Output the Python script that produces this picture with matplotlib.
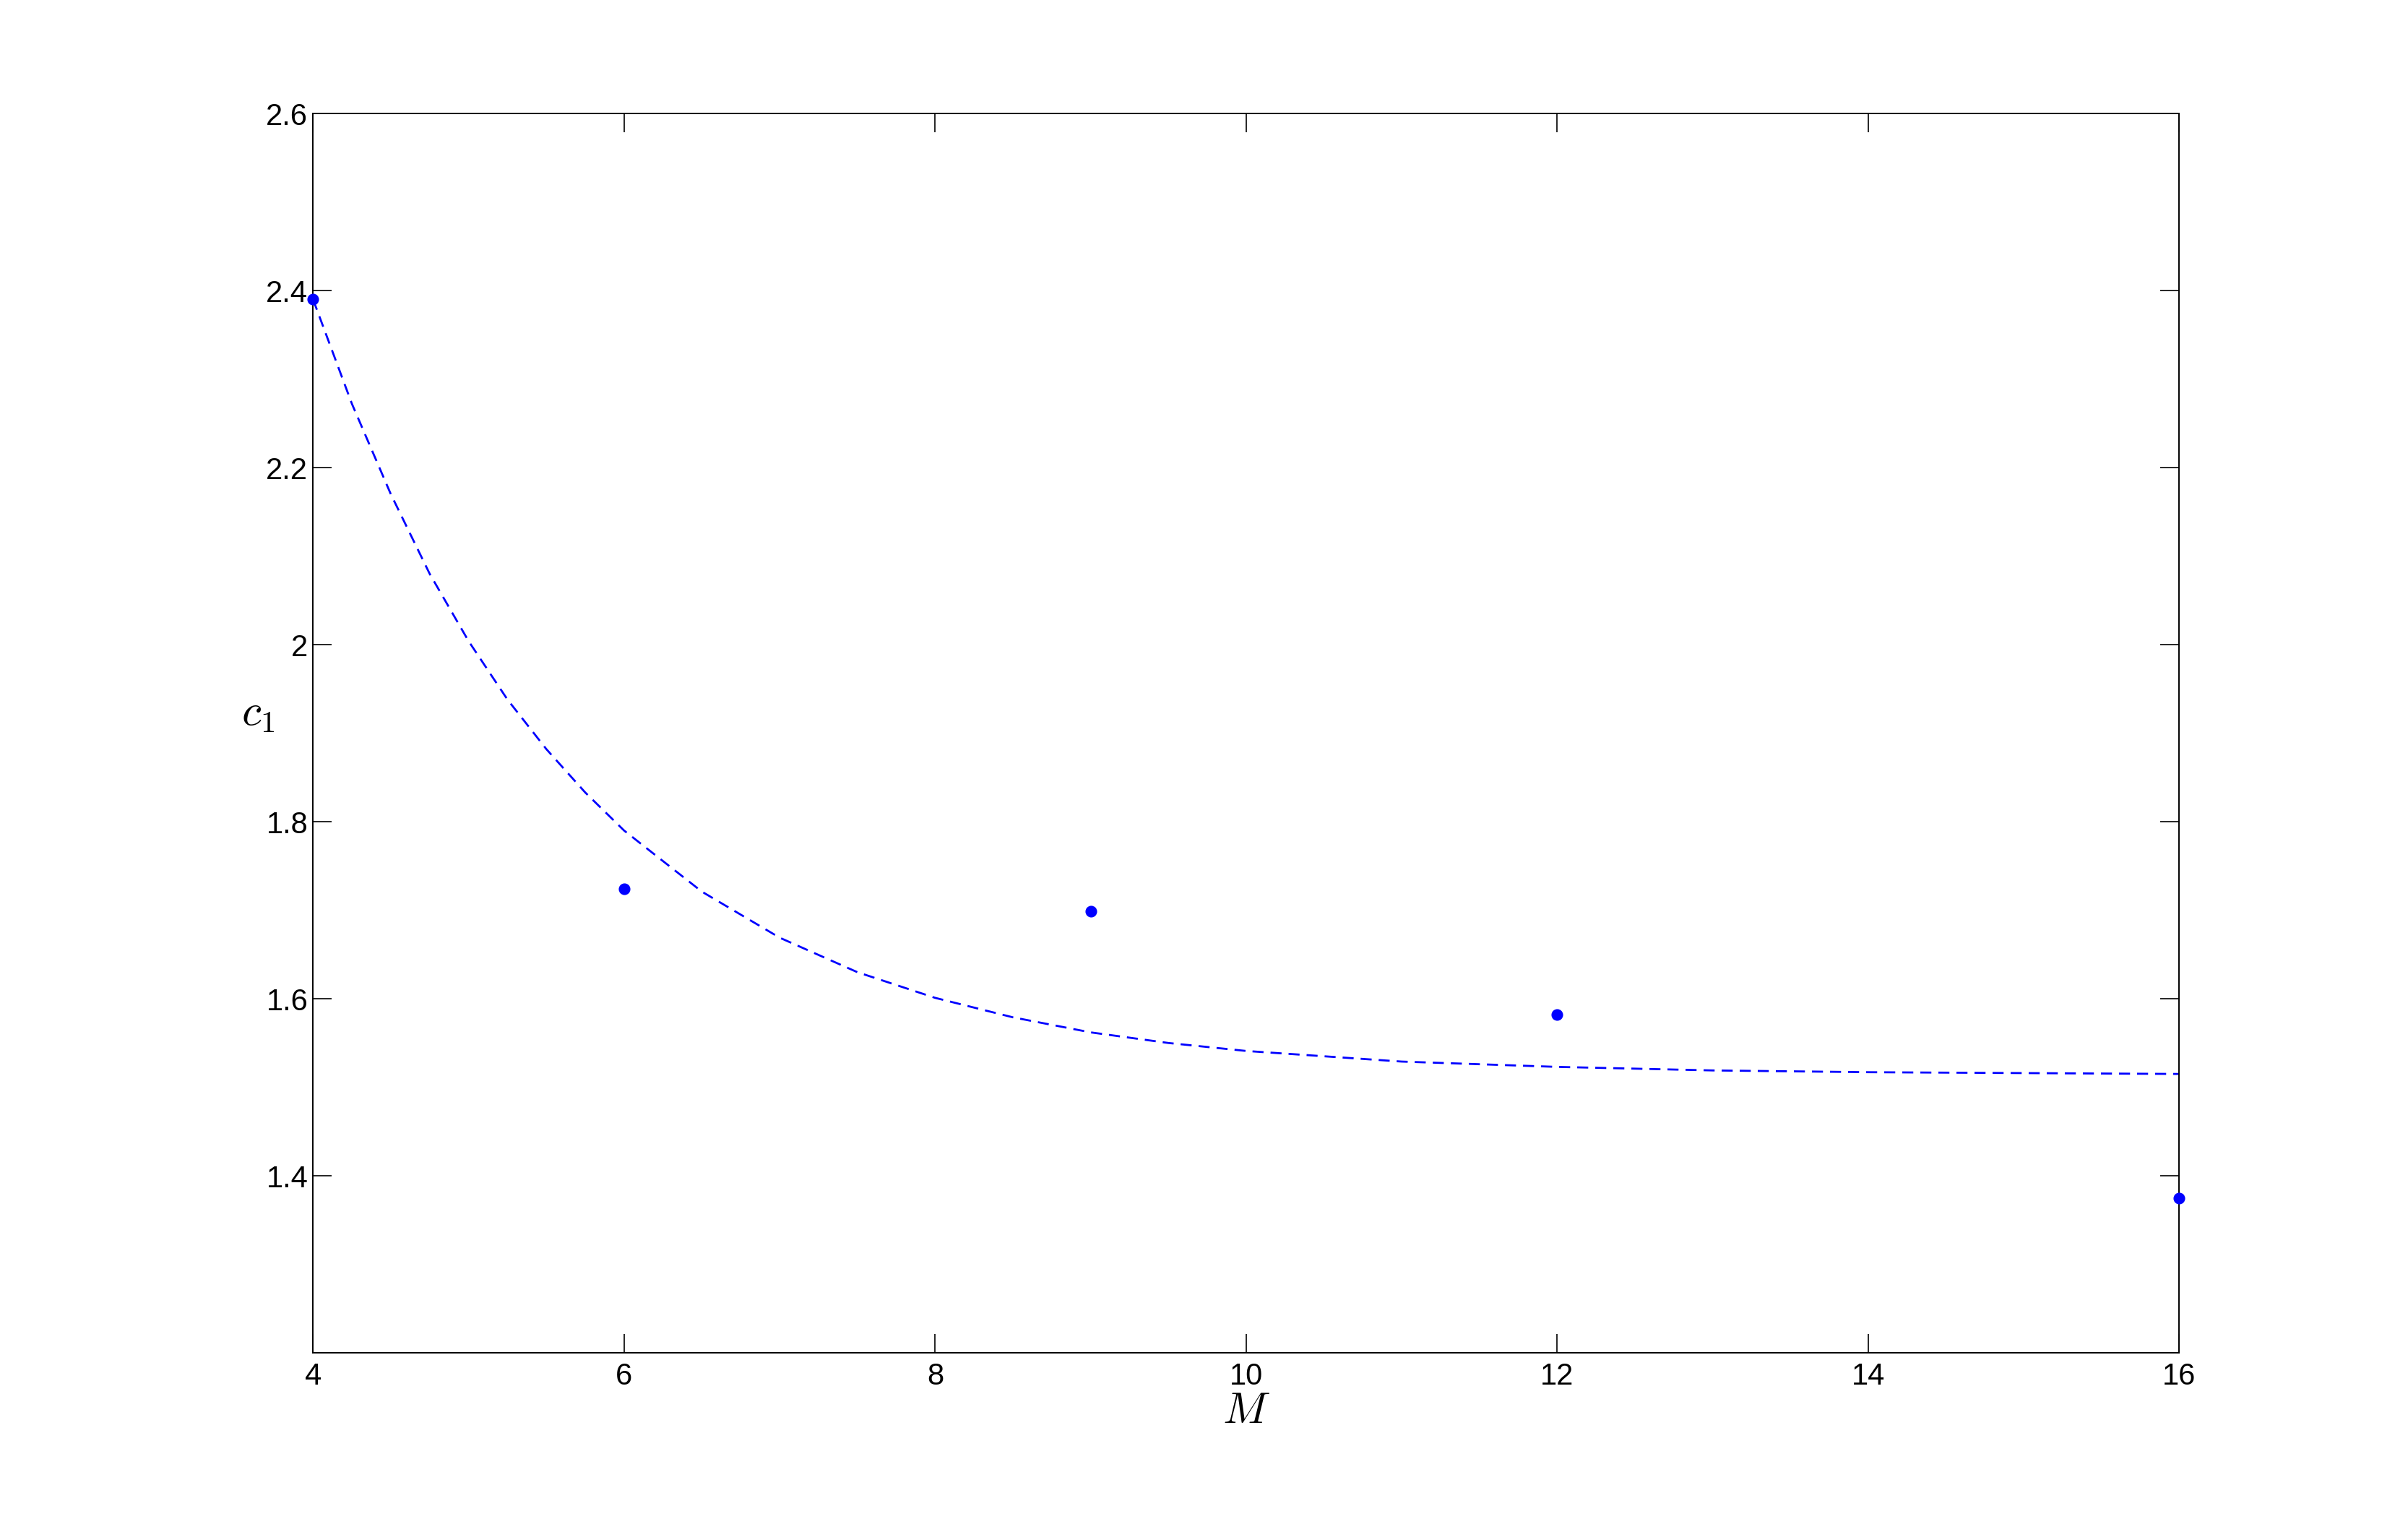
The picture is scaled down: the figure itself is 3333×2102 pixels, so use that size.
import matplotlib.pyplot as plt
from matplotlib.ticker import FuncFormatter

# measured c1 values
M_vals = [4, 6, 9, 12, 16]
c1_vals = [2.390, 1.724, 1.699, 1.582, 1.375]

# fitted curve
fit_M = [4.0, 4.25, 4.5, 4.75, 5.0, 5.25, 5.5, 5.75, 6.0, 6.5, 7.0, 7.5,
         8.0, 8.5, 9.0, 9.5, 10.0, 11.0, 12.0, 13.0, 14.0, 15.0, 16.0]
fit_c1 = [2.390, 2.272, 2.170, 2.080, 2.004, 1.938, 1.882, 1.833, 1.790,
          1.721, 1.669, 1.630, 1.601, 1.579, 1.562, 1.550, 1.541, 1.529,
          1.523, 1.519, 1.517, 1.516, 1.515]

x_ticks = [4, 6, 8, 10, 12, 14, 16]
y_ticks = [1.4, 1.6, 1.8, 2.0, 2.2, 2.4, 2.6]

plt.rcParams['font.family'] = ['Liberation Sans', 'DejaVu Sans']
plt.rcParams['mathtext.fontset'] = 'cm'

fig = plt.figure(figsize=(16.665, 10.51), dpi=200)
ax = fig.add_axes([0.13, 0.1094, 0.775, 0.8159])

ax.plot(fit_M, fit_c1, color='blue', linewidth=1.0, dashes=(5.5, 3.5))
ax.plot(M_vals, c1_vals, 'o', color='blue', markersize=4.8, clip_on=False, zorder=5)

ax.set_xlim(4, 16)
ax.set_ylim(1.2, 2.6)
ax.set_xticks(x_ticks)
ax.set_yticks(y_ticks)
ax.yaxis.set_major_formatter(FuncFormatter(lambda v, p: ('%g' % round(v, 2))))

ax.tick_params(direction='in', length=9.4, width=0.6, labelsize=15,
               top=True, right=True)
ax.tick_params(axis='y', pad=2.5)
ax.tick_params(axis='x', pad=4.5)
for s in ax.spines.values():
    s.set_linewidth(0.7)

ax.set_xlabel('$M$', fontsize=22)
ax.xaxis.set_label_coords(0.5, -0.031)
ax.set_ylabel('$c_1$', fontsize=22, rotation=0)
ax.yaxis.set_label_coords(-0.0294, 0.499)

fig.savefig('out.png', dpi=200)
